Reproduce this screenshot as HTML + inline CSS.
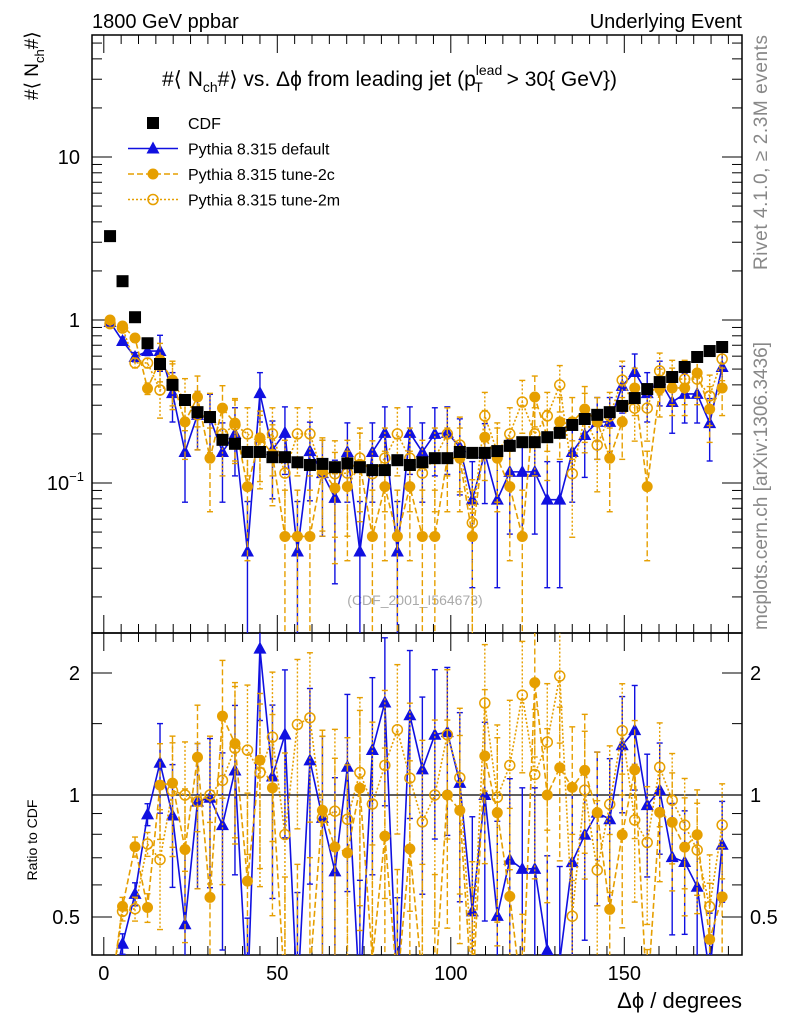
<!DOCTYPE html>
<html><head><meta charset="utf-8"><style>
html,body{margin:0;padding:0;background:#fff;width:786px;height:1024px;overflow:hidden;}
svg{display:block;font-family:"Liberation Sans",sans-serif;}
</style></head><body>
<svg id="c" width="786" height="1024" viewBox="0 0 786 1024" xmlns="http://www.w3.org/2000/svg">
<defs>
<clipPath id="cm"><rect x="92" y="35" width="650" height="598"/></clipPath>
<clipPath id="cr"><rect x="92" y="633" width="650" height="322"/></clipPath>
</defs>
<text x="92" y="28" font-size="20">1800 GeV ppbar</text>
<text x="742" y="28" font-size="20" text-anchor="end">Underlying Event</text>
<text x="162" y="86" font-size="21">#⟨ N<tspan font-size="14" dy="6">ch</tspan><tspan dy="-6">#⟩ vs. Δϕ from leading jet  (p</tspan><tspan font-size="14" dy="-11">lead</tspan><tspan font-size="14" dx="-28" dy="17">T</tspan><tspan dx="18" dy="-6"> &gt; 30{ GeV})</tspan></text>
<text transform="translate(38,100) rotate(-90)" font-size="19">#⟨ N<tspan font-size="13" dy="6">ch</tspan><tspan dy="-6">#⟩</tspan></text>
<text transform="translate(37,840) rotate(-90)" font-size="14" text-anchor="middle">Ratio to CDF</text>
<text transform="translate(767,35) rotate(-90)" font-size="19" fill="#888" text-anchor="end" textLength="235">Rivet 4.1.0, ≥ 2.3M events</text>
<text transform="translate(767,342) rotate(-90)" font-size="19" fill="#888" text-anchor="end" textLength="288">mcplots.cern.ch [arXiv:1306.3436]</text>
<text x="415" y="605" font-size="14" fill="#aaa" text-anchor="middle">(CDF_2001_I564673)</text>
<text x="742" y="1008" font-size="22" text-anchor="end">Δϕ / degrees</text>
<g id="axes"></g>
<g id="main" clip-path="url(#cm)"></g>
<g id="ratio" clip-path="url(#cr)"></g>
<g id="legend"></g>
</svg>
<script>
const binCenters=[];for(let i=0;i<50;i++)binCenters.push(1.8+3.6*i);
const cdf=[3.27,1.73,1.04,0.72,0.537,0.40,0.323,0.272,0.254,0.184,0.174,0.155,0.155,0.144,0.144,0.134,0.129,0.131,0.125,0.132,0.125,0.12,0.12,0.138,0.129,0.134,0.142,0.142,0.155,0.153,0.153,0.157,0.169,0.178,0.178,0.191,0.203,0.227,0.247,0.262,0.272,0.297,0.332,0.377,0.416,0.447,0.515,0.593,0.645,0.683];
const pyDefault=[0.972,0.743,0.593,0.645,0.645,0.356,0.155,0.262,0.25,0.155,0.2,0.038,0.356,0.16,0.203,0.038,0.157,0.115,0.081,0.155,0.038,0.155,0.203,0.038,0.203,0.155,0.2,0.203,0.166,0.079,0.153,0.079,0.117,0.117,0.117,0.079,0.079,0.155,0.197,0.237,0.237,0.394,0.48,0.356,0.428,0.314,0.352,0.352,0.233,0.515];
const pyTune2c=[1.0,0.919,0.775,0.38,0.568,0.428,0.237,0.337,0.142,0.288,0.233,0.095,0.189,0.15,0.047,0.047,0.047,0.12,0.093,0.095,0.13,0.047,0.095,0.047,0.095,0.047,0.047,0.142,0.142,0.047,0.191,0.142,0.095,0.047,0.337,0.191,0.237,0.237,0.284,0.237,0.142,0.237,0.383,0.095,0.377,0.383,0.383,0.473,0.284,0.383];
const pyTune2m=[0.95,0.893,0.545,0.545,0.372,0.41,0.323,0.262,0.254,0.2,0.227,0.2,0.176,0.2,0.115,0.2,0.2,0.115,0.114,0.115,0.142,0.114,0.142,0.2,0.142,0.115,0.142,0.2,0.171,0.057,0.258,0.155,0.2,0.314,0.2,0.258,0.399,0.114,0.254,0.171,0.258,0.428,0.288,0.288,0.487,0.434,0.434,0.434,0.342,0.576];
const xTicks=[0,50,100,150];
const mainTicks=[10,1];
const ratioTicks=[0.5,1,2];

const NS="http://www.w3.org/2000/svg";
const X=v=>103.8+3.47*v;
const YM=v=>320-163*Math.log10(Math.max(v,1e-6));
const YR=r=>795-122*Math.log2(Math.max(r,1e-6));
function mk(tag,attrs,parent){const e=document.createElementNS(NS,tag);for(const k in attrs)e.setAttribute(k,attrs[k]);parent.appendChild(e);return e;}
const axes=document.getElementById('axes');
let f1=mk('rect',{x:92,y:35,width:650,height:598,fill:'none',stroke:'#000','stroke-width':1.5},axes);


let f2=mk('rect',{x:92,y:633,width:650,height:322,fill:'none',stroke:'#000','stroke-width':1.5},axes);


for(let v=0;v<=180;v+=5){const big=v%50===0;const L=big?18:9;
 [[35,1],[633,-1],[633,1],[955,-1]].forEach(([y,d])=>{mk('line',{x1:X(v),x2:X(v),y1:y,y2:y+d*L,stroke:'#000','stroke-width':1},axes);});}
xTicks.forEach(v=>{const t=mk('text',{x:X(v),y:980,'font-size':20,'text-anchor':'middle'},axes);t.textContent=v;
 
 });
for(let e=-2;e<=1;e++){for(let m=1;m<=9;m++){const v=m*Math.pow(10,e);const y=YM(v);if(y<35||y>633)continue;const L=m===1?20:10;
 mk('line',{x1:92,x2:92+L,y1:y,y2:y,stroke:'#000'},axes);mk('line',{x1:742,x2:742-L,y1:y,y2:y,stroke:'#000'},axes);}}
mainTicks.forEach(v=>{const t=mk('text',{x:80,y:YM(v)+7,'font-size':20,'text-anchor':'end'},axes);t.textContent=v;
 
 });
{const t=mk('text',{x:84,y:YM(0.1)+7,'font-size':20,'text-anchor':'end'},axes);t.innerHTML='10<tspan font-size="13" dy="-9">−1</tspan>';
 
 }
[0.4,0.5,0.6,0.7,0.8,0.9,1,1.5,2].forEach(v=>{const y=YR(v);if(y<633||y>955)return;const L=(v===0.5||v===1||v===2)?20:10;
 mk('line',{x1:92,x2:92+L,y1:y,y2:y,stroke:'#000'},axes);mk('line',{x1:742,x2:742-L,y1:y,y2:y,stroke:'#000'},axes);});
ratioTicks.forEach(v=>{const t=mk('text',{x:80,y:YR(v)+7,'font-size':20,'text-anchor':'end'},axes);t.textContent=v;
 
 
 const t2=mk('text',{x:750,y:YR(v)+7,'font-size':20},axes);t2.textContent=v;
 
 });
mk('line',{x1:92,x2:742,y1:YR(1),y2:YR(1),stroke:'#000','stroke-width':1.2},axes);

function marker(g,kind,x,y,col,name){let e;
 if(kind==='sq')e=mk('rect',{x:x-6,y:y-6,width:12,height:12,fill:'#000'},g);
 else if(kind==='tri')e=mk('polygon',{points:`${x},${y-7} ${x-6.5},${y+5} ${x+6.5},${y+5}`,fill:col},g);
 else if(kind==='dot')e=mk('circle',{cx:x,cy:y,r:5.5,fill:col},g);
 else e=mk('circle',{cx:x,cy:y,r:5,fill:'none',stroke:col,'stroke-width':1.5},g);
 
 }
const series=[
 {vals:pyDefault,col:'#1010e0',dash:'',kind:'tri',k:0.2,name:'pythia-default'},
 {vals:pyTune2c,col:'#e69f00',dash:'6,3',kind:'dot',k:0.2,name:'pythia-tune-2c'},
 {vals:pyTune2m,col:'#e69f00',dash:'2,2',kind:'open',k:0.2,name:'pythia-tune-2m'}];
function drawPanel(gid,Y,norm){const g=document.getElementById(gid);
 series.forEach(s=>{const pts=binCenters.map((c,i)=>{const v=s.vals[i]/(norm?cdf[i]:1);return [X(c),Math.min(Y(v),1000)];});
  const p=mk('polyline',{points:pts.map(p=>p.join(',')).join(' '),fill:'none',stroke:s.col,'stroke-width':1.6,'stroke-dasharray':s.dash},g);
  
  
  binCenters.forEach((c,i)=>{const raw=s.vals[i];const k=i<4?0.05:s.k;const err=k*Math.sqrt(raw);const d=norm?cdf[i]:1;
   const lo=(raw-err)/d,hi=(raw+err)/d;const x=X(c);const y1=Y(hi),y2=lo>0?Math.min(Y(lo),1000):1000;
   const eb=mk('line',{x1:x,x2:x,y1:y1,y2:y2,stroke:s.col,'stroke-width':1.4,'stroke-dasharray':s.dash},g);
   
   
   mk('line',{x1:x-3,x2:x+3,y1:y1,y2:y1,stroke:s.col,'stroke-width':1.4},g);
   if(lo>0)mk('line',{x1:x-3,x2:x+3,y1:y2,y2:y2,stroke:s.col,'stroke-width':1.4},g);
   marker(g,s.kind,x,Math.min(Y(raw/d),1000),s.col,s.name+'-point');});});
 if(!norm)binCenters.forEach((c,i)=>marker(g,'sq',X(c),Y(cdf[i]),'#000','cdf-point'));}
drawPanel('main',YM,false);
drawPanel('ratio',YR,true);
const lg=document.getElementById('legend');
const entries=[['sq','#000','','CDF'],['tri','#1010e0','','Pythia 8.315 default'],['dot','#e69f00','6,3','Pythia 8.315 tune-2c'],['open','#e69f00','2,2','Pythia 8.315 tune-2m']];
entries.forEach((e,i)=>{const y=123+25.5*i;
 if(i>0){mk('line',{x1:128,x2:178,y1:y,y2:y,stroke:e[1],'stroke-width':1.6,'stroke-dasharray':e[2]},lg);}
 marker(lg,e[0],153,y,e[1],'legend-marker');
 const t=mk('text',{x:188,y:y+6,'font-size':16},lg);t.textContent=e[3];
 
 });
</script>
</body></html>
